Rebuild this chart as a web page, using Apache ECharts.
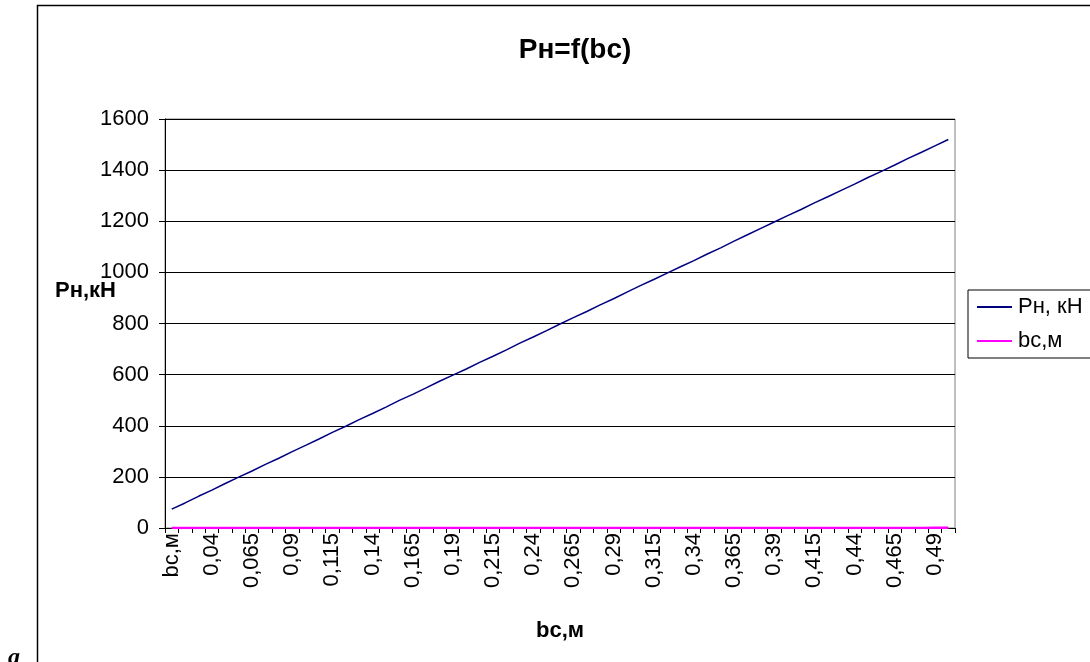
<!DOCTYPE html>
<html><head><meta charset="utf-8">
<script src="https://cdn.jsdelivr.net/npm/echarts@6/dist/echarts.min.js"></script>
<style>html,body{margin:0;padding:0;background:#fff}#c{width:1090px;height:662px}</style>
</head><body><div id="c"></div>
<script>
var categories = ["bc,м","0,023333","0,031667","0,04","0,048333","0,056667","0,065","0,073333","0,081667","0,09",
"0,098333","0,106667","0,115","0,123333","0,131667","0,14","0,148333","0,156667","0,165","0,173333",
"0,181667","0,19","0,198333","0,206667","0,215","0,223333","0,231667","0,24","0,248333","0,256667",
"0,265","0,273333","0,281667","0,29","0,298333","0,306667","0,315","0,323333","0,331667","0,34",
"0,348333","0,356667","0,365","0,373333","0,381667","0,39","0,398333","0,406667","0,415","0,423333",
"0,431667","0,44","0,448333","0,456667","0,465","0,473333","0,481667","0,49","0,498333"];
var pnValues = [74,98,124,148,174,199,223,249,273,299,
323,348,374,398,424,448,473,499,523,548,
574,598,622,648,672,697,723,747,772,798,
823,847,873,897,923,948,972,997,1022,1046,
1072,1096,1122,1147,1172,1197,1222,1246,1272,1296,
1321,1345,1371,1395,1420,1446,1470,1495,1520];
var bcValues = [0.015,0.0233,0.0317,0.04,0.0483,0.0567,0.065,0.0733,0.0817,0.09,
0.0983,0.1067,0.115,0.1233,0.1317,0.14,0.1483,0.1567,0.165,0.1733,
0.1817,0.19,0.1983,0.2067,0.215,0.2233,0.2317,0.24,0.2483,0.2567,
0.265,0.2733,0.2817,0.29,0.2983,0.3067,0.315,0.3233,0.3317,0.34,
0.3483,0.3567,0.365,0.3733,0.3817,0.39,0.3983,0.4067,0.415,0.4233,
0.4317,0.44,0.4483,0.4567,0.465,0.4733,0.4817,0.49,0.4983];
var yTicks = {min:0, max:1600, interval:200};
var FONT = "'Liberation Sans', Arial, sans-serif";
var chart = echarts.init(document.getElementById('c'));
chart.setOption({
  animation:false,
  backgroundColor:'#fff',
  title:{text:'Pн=f(bc)', left:570, top:31, textAlign:'center',
    textStyle:{fontFamily:FONT, fontSize:28, fontWeight:'bold', color:'#000'}},
  grid:{left:165, right:135, top:119, bottom:134, show:true, borderColor:'#808080', borderWidth:1, backgroundColor:'#fff'},
  legend:{orient:'vertical', left:968, top:290, padding:[5,20,5,9], itemGap:10,
    itemWidth:35, itemHeight:2, borderColor:'#000', borderWidth:1,
    textStyle:{fontFamily:FONT, fontSize:22, lineHeight:24, color:'#000', padding:[0,0,0,1]},
    data:[{name:'Pн, кН', icon:'rect'},{name:'bc,м', icon:'rect'}]},
  xAxis:{type:'category', data:categories, boundaryGap:true,
    name:'bc,м', nameLocation:'middle', nameGap:92,
    nameTextStyle:{fontFamily:FONT, fontSize:22, fontWeight:'bold', color:'#000'},
    axisLine:{lineStyle:{color:'#000', width:1}},
    axisTick:{show:true, interval:0, length:5, lineStyle:{color:'#000'}},
    axisLabel:{interval:2, rotate:90, fontFamily:FONT, fontSize:22, color:'#000', margin:5},
    splitLine:{show:false}},
  yAxis:{type:'value', min:yTicks.min, max:yTicks.max, interval:yTicks.interval,
    axisLine:{show:true, lineStyle:{color:'#000', width:1}},
    axisTick:{show:true, length:6, lineStyle:{color:'#000'}},
    axisLabel:{fontFamily:FONT, fontSize:22, color:'#000', margin:16, formatter:function(v){return String(v);}},
    splitLine:{show:true, lineStyle:{color:'#000', width:1}}},
  graphic:[
    {type:'rect', shape:{x:37.5, y:5.5, width:1100, height:700}, style:{fill:'none', stroke:'#000', lineWidth:1.5}, z:100},
    {type:'text', left:55, top:280, style:{text:'Pн,кН', font:"bold 22px 'Liberation Sans', Arial, sans-serif", fill:'#000'}, z:100},
    {type:'text', left:8, top:646, style:{text:'а', font:"italic bold 24px 'Liberation Serif', 'Times New Roman', serif", fill:'#000'}, z:100}
  ],
  series:[
    {name:'Pн, кН', type:'line', data:pnValues, symbol:'none', z:5, lineStyle:{color:'#000080', width:1.5}, itemStyle:{color:'#000080'}},
    {name:'bc,м', type:'line', data:bcValues, symbol:'none', z:6, lineStyle:{color:'#FF00FF', width:2.5}, itemStyle:{color:'#FF00FF'}}
  ]
});
</script></body></html>
